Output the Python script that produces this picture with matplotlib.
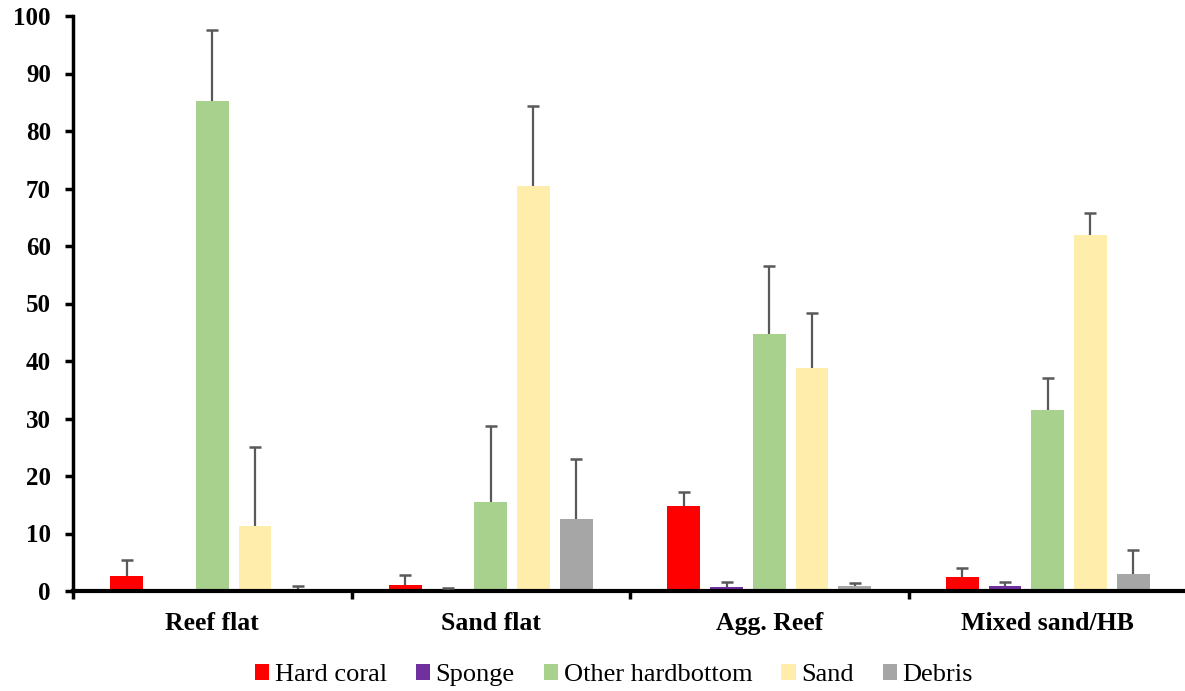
import numpy as np
import matplotlib
matplotlib.use("Agg")
import matplotlib.pyplot as plt
from matplotlib.patches import Patch

# Habitat categories and cover classes
habitats = ["Reef flat", "Sand flat", "Agg. Reef", "Mixed sand/HB"]
classes = ["Hard coral", "Sponge", "Other hardbottom", "Sand", "Debris"]

# Mean percent cover per class across habitats
hard_coral = [2.6, 1.1, 14.7, 2.5]
sponge = [0.1, 0.2, 0.7, 0.8]
other_hb = [85.3, 15.4, 44.7, 31.5]
sand = [11.3, 70.5, 38.8, 61.9]
debris = [0.3, 12.5, 0.8, 3.0]

# Upper error (top of whisker) per class
hard_coral_err = [5.4, 2.8, 17.3, 4.0]
sponge_err = [0.1, 0.5, 1.5, 1.6]
other_hb_err = [97.5, 28.7, 56.6, 37.1]
sand_err = [25.0, 84.4, 48.3, 65.7]
debris_err = [0.9, 23.0, 1.4, 7.1]

means = [hard_coral, sponge, other_hb, sand, debris]
tops = [hard_coral_err, sponge_err, other_hb_err, sand_err, debris_err]
colors = ["#FF0000", "#7030A0", "#A9D18E", "#FFEEAB", "#A6A6A6"]

y_ticks = [0, 10, 20, 30, 40, 50, 60, 70, 80, 90, 100]

plt.rcParams["font.family"] = ["Liberation Serif", "DejaVu Serif"]

fig = plt.figure(figsize=(11.85, 6.91), dpi=100)
ax = fig.add_axes([73 / 1185, 100 / 691, 1114 / 1185, 575 / 691])

x = np.arange(len(habitats))
step = 0.1533
width = 0.118
for i, (vals, top, col) in enumerate(zip(means, tops, colors)):
    pos = x + (i - 2) * step
    vals = np.array(vals)
    top = np.array(top)
    ax.bar(pos, vals, width=width, color=col, zorder=2)
    # upper-only whiskers with a cap at the top
    show = top > vals
    ax.vlines(pos[show], vals[show], top[show], colors="#595959",
              linewidth=1.6, zorder=3)
    ax.plot(pos[show], top[show], linestyle="none", marker="_",
            markersize=9, markeredgewidth=1.8, color="#595959", zorder=3)

ax.set_xlim(-0.5, len(habitats) - 0.5)
ax.set_ylim(0, 100)
ax.set_yticks(y_ticks)
ax.set_yticklabels([str(t) for t in y_ticks], fontsize=18, fontweight="bold")

# Group boundaries carry the tick marks; labels sit at group centres
ax.set_xticks(np.arange(-0.5, len(habitats), 1.0))
ax.set_xticklabels([])
ax.set_xticks(x, minor=True)
ax.set_xticklabels(habitats, minor=True, fontsize=18.5, fontweight="bold")
ax.tick_params(axis="x", which="minor", length=0, pad=15)
ax.tick_params(axis="x", which="major", direction="out", length=6, width=2.5)
ax.tick_params(axis="y", direction="out", length=6, width=2.5, pad=10)

for side in ["top", "right"]:
    ax.spines[side].set_visible(False)
ax.spines["left"].set_linewidth(2.5)
ax.spines["bottom"].set_linewidth(3)

handles = [Patch(facecolor=c, label=l) for c, l in zip(colors, classes)]
fig.legend(handles=handles, loc="center", bbox_to_anchor=(614 / 1185, 1 - 675 / 691),
           ncol=5, frameon=False, fontsize=19, handlelength=0.55,
           handleheight=0.55, handletextpad=0.2, columnspacing=1.1,
           borderaxespad=0)

fig.savefig("out.png", dpi=100)
